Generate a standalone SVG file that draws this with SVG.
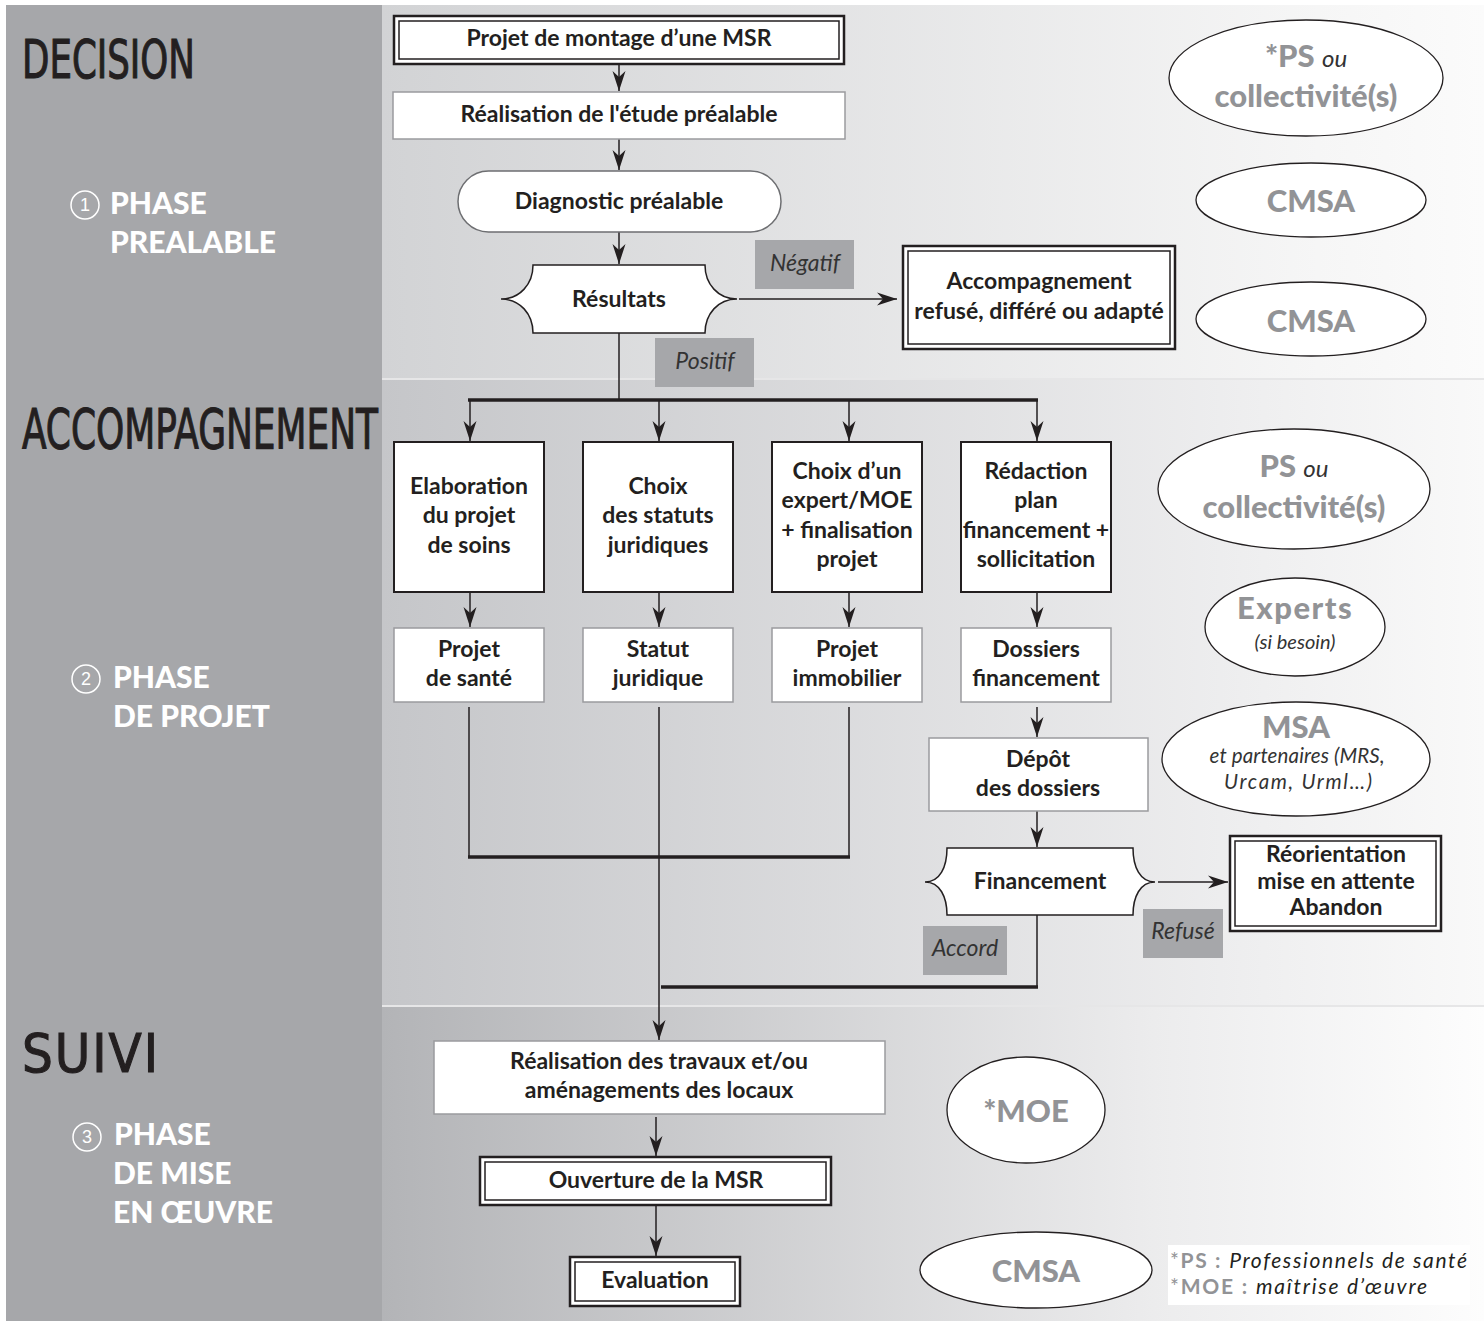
<svg xmlns="http://www.w3.org/2000/svg" width="1484" height="1321" viewBox="0 0 1484 1321">
<style>
.hd{font-family:"Liberation Sans Narrow","DejaVu Sans Condensed","Liberation Sans",sans-serif;font-weight:400;fill:#231f20;stroke:#231f20;stroke-width:1.1}
.ph{font-family:Lato,"Open Sans",sans-serif;font-weight:900;font-size:30px;fill:#fff}
.num{font-family:"Liberation Sans",sans-serif;font-size:18px;fill:#fff;text-anchor:middle}
.t{font-family:Lato,"Open Sans",sans-serif;font-weight:700;font-size:23px;fill:#231f20;text-anchor:middle}
.lbl{font-family:Lato,"Open Sans",sans-serif;font-style:italic;font-size:23px;fill:#333;text-anchor:middle}
.eg{font-family:Lato,"Open Sans",sans-serif;font-weight:900;font-size:31px;fill:#929396;text-anchor:middle}
.ei{font-family:Lato,"Open Sans",sans-serif;font-style:italic;font-weight:400;fill:#333}
.bx{fill:#fff;stroke:#231f20;stroke-width:2}
.gb{fill:#fff;stroke:#9a9b9e;stroke-width:1.5}
.inner{fill:none;stroke:#231f20;stroke-width:1.5}
.outer{fill:#fff;stroke:#231f20;stroke-width:2.5}
.el{fill:#fff;stroke:#231f20;stroke-width:1.3}
.gl{fill:#a6a7aa}
.ln{fill:none;stroke:#231f20;stroke-width:1.5}
.bus{fill:none;stroke:#231f20;stroke-width:3.5}
.ar{fill:none;stroke:#231f20;stroke-width:1.5;marker-end:url(#ah)}
</style>
<defs>
<marker id="ah" markerUnits="userSpaceOnUse" markerWidth="22" markerHeight="16" viewBox="-21 -8 22 16" refX="0" refY="0" orient="auto">
<path d="M-20,-6.5 L0,0 L-20,6.5 L-14,0 Z" fill="#231f20"/>
</marker>
<linearGradient id="g1" x1="0" x2="1" y1="0" y2="0"><stop offset="0" stop-color="#d2d3d5"/><stop offset="0.85" stop-color="#f6f6f6"/><stop offset="1" stop-color="#fbfbfb"/></linearGradient>
<linearGradient id="g2" x1="0" x2="1" y1="0" y2="0"><stop offset="0" stop-color="#c5c6c9"/><stop offset="0.8" stop-color="#efeff0"/><stop offset="1" stop-color="#f9f9f9"/></linearGradient>
<linearGradient id="g3" x1="0" x2="1" y1="0" y2="0"><stop offset="0" stop-color="#b3b4b7"/><stop offset="0.7" stop-color="#ececed"/><stop offset="1" stop-color="#fdfdfd"/></linearGradient>
</defs>
<rect width="1484" height="1321" fill="#fff"/>
<g id="background">
<rect x="382" y="5" width="1102" height="1316" fill="#e6e6e7"/>
<rect x="382" y="5" width="1102" height="373" fill="url(#g1)"/>
<rect x="382" y="380" width="1102" height="625" fill="url(#g2)"/>
<rect x="382" y="1007" width="1102" height="314" fill="url(#g3)"/>
<rect x="6" y="5" width="376" height="1316" fill="#a6a7aa"/>
</g>
<g id="headings">
<text class="hd" x="22" y="78" font-size="53" textLength="173" lengthAdjust="spacingAndGlyphs">DECISION</text>
<text class="hd" x="22" y="448" font-size="56" textLength="356" lengthAdjust="spacingAndGlyphs">ACCOMPAGNEMENT</text>
<text class="hd" x="22" y="1072" font-size="54" textLength="136" lengthAdjust="spacing">SUIVI</text>
</g>
<g id="phase1">
<circle cx="85" cy="205" r="14" fill="none" stroke="#fff" stroke-width="1.5"/>
<text class="num" x="85" y="211">1</text>
<text class="ph" x="110" y="214">PHASE</text>
<text class="ph" x="110" y="253">PREALABLE</text>
</g>
<g id="phase2">
<circle cx="86" cy="679" r="14" fill="none" stroke="#fff" stroke-width="1.5"/>
<text class="num" x="86" y="685">2</text>
<text class="ph" x="113" y="688">PHASE</text>
<text class="ph" x="113" y="727">DE PROJET</text>
</g>
<g id="phase3">
<circle cx="87" cy="1137" r="14" fill="none" stroke="#fff" stroke-width="1.5"/>
<text class="num" x="87" y="1143">3</text>
<text class="ph" x="114" y="1145">PHASE</text>
<text class="ph" x="113" y="1184">DE MISE</text>
<text class="ph" x="113" y="1223">EN ŒUVRE</text>
</g>
<g id="connectors">
<line class="ar" x1="619" y1="64" x2="619" y2="91"/>
<line class="ar" x1="619" y1="139" x2="619" y2="170"/>
<line class="ar" x1="619" y1="232" x2="619" y2="264"/>
<line class="ar" x1="739" y1="299" x2="897" y2="299"/>
<polyline class="ln" points="619,333 619,400"/>
<line class="bus" x1="468" y1="400" x2="1038" y2="400"/>
<line class="ar" x1="470" y1="400" x2="470" y2="441"/>
<line class="ar" x1="659" y1="400" x2="659" y2="441"/>
<line class="ar" x1="849" y1="400" x2="849" y2="441"/>
<line class="ar" x1="1037" y1="400" x2="1037" y2="441"/>
<line class="ar" x1="470" y1="592" x2="470" y2="627"/>
<line class="ar" x1="659" y1="592" x2="659" y2="627"/>
<line class="ar" x1="849" y1="592" x2="849" y2="627"/>
<line class="ar" x1="1037" y1="592" x2="1037" y2="627"/>
<line class="ln" x1="469" y1="707" x2="469" y2="857"/>
<line class="ln" x1="849" y1="707" x2="849" y2="857"/>
<line class="bus" x1="468" y1="857" x2="850" y2="857"/>
<line class="ar" x1="659" y1="707" x2="659" y2="1040"/>
<line class="ar" x1="1037" y1="707" x2="1037" y2="737"/>
<line class="ar" x1="1037" y1="811" x2="1037" y2="847"/>
<line class="ar" x1="1158" y1="882" x2="1228" y2="882"/>
<polyline class="ln" points="1037,915 1037,987"/>
<line class="bus" x1="661" y1="987" x2="1038" y2="987"/>
<line class="ar" x1="656" y1="1117" x2="656" y2="1156"/>
<line class="ar" x1="656" y1="1205" x2="656" y2="1256"/>
</g>
<g id="labels">
<g id="lbl-negatif"><rect class="gl" x="755" y="240" width="99" height="49"/><text class="lbl" x="805" y="271">Négatif</text></g>
<g id="lbl-positif"><rect class="gl" x="655" y="338" width="99" height="49"/><text class="lbl" x="705" y="369">Positif</text></g>
<g id="lbl-accord"><rect class="gl" x="923" y="926" width="84" height="49"/><text class="lbl" x="965" y="956">Accord</text></g>
<g id="lbl-refuse"><rect class="gl" x="1143" y="909" width="80" height="49"/><text class="lbl" x="1183" y="939">Refusé</text></g>
</g>
<g id="n-projet-montage">
<rect class="outer" x="394" y="16" width="450" height="48"/>
<rect class="inner" x="399" y="21" width="440" height="38"/>
<text class="t" x="619" y="46">Projet de montage d’une MSR</text>
</g>
<g id="n-realisation-etude">
<rect class="gb" x="393" y="92" width="452" height="47"/>
<text class="t" x="619" y="122">Réalisation de l'étude préalable</text>
</g>
<g id="n-diagnostic">
<rect x="458" y="171" width="323" height="61" rx="30.5" fill="#fff" stroke="#6d6e71" stroke-width="1.5"/>
<text class="t" x="619" y="209">Diagnostic préalable</text>
</g>
<g id="n-resultats">
<path d="M533,265 L705,265 C705,284 718,299 737,299 C718,299 705,314 705,333 L533,333 C533,314 520,299 501,299 C520,299 533,284 533,265 Z" fill="#fff" stroke="#231f20" stroke-width="1.5"/>
<text class="t" x="619" y="307">Résultats</text>
</g>
<g id="n-accompagnement-refuse">
<rect class="outer" x="903" y="246" width="272" height="103"/>
<rect class="inner" x="908" y="251" width="262" height="93"/>
<text class="t" x="1039" y="289">Accompagnement</text>
<text class="t" x="1039" y="319">refusé, différé ou adapté</text>
</g>
<g id="n-elaboration">
<rect class="bx" x="394" y="442" width="150" height="150"/>
<text class="t" x="469" y="494">Elaboration</text>
<text class="t" x="469" y="523">du projet</text>
<text class="t" x="469" y="553">de soins</text>
</g>
<g id="n-choix-statuts">
<rect class="bx" x="583" y="442" width="150" height="150"/>
<text class="t" x="658" y="494">Choix</text>
<text class="t" x="658" y="523">des statuts</text>
<text class="t" x="658" y="553">juridiques</text>
</g>
<g id="n-choix-expert">
<rect class="bx" x="772" y="442" width="150" height="150"/>
<text class="t" x="847" y="479">Choix d’un</text>
<text class="t" x="847" y="508">expert/MOE</text>
<text class="t" x="847" y="538">+ finalisation</text>
<text class="t" x="847" y="567">projet</text>
</g>
<g id="n-redaction">
<rect class="bx" x="961" y="442" width="150" height="150"/>
<text class="t" x="1036" y="479">Rédaction</text>
<text class="t" x="1036" y="508">plan</text>
<text class="t" x="1036" y="538">financement +</text>
<text class="t" x="1036" y="567">sollicitation</text>
</g>
<g id="n-projet-sante">
<rect class="gb" x="394" y="628" width="150" height="74"/>
<text class="t" x="469" y="657">Projet</text>
<text class="t" x="469" y="686">de santé</text>
</g>
<g id="n-statut">
<rect class="gb" x="583" y="628" width="150" height="74"/>
<text class="t" x="658" y="657">Statut</text>
<text class="t" x="658" y="686">juridique</text>
</g>
<g id="n-projet-immo">
<rect class="gb" x="772" y="628" width="150" height="74"/>
<text class="t" x="847" y="657">Projet</text>
<text class="t" x="847" y="686">immobilier</text>
</g>
<g id="n-dossiers">
<rect class="gb" x="961" y="628" width="150" height="74"/>
<text class="t" x="1036" y="657">Dossiers</text>
<text class="t" x="1036" y="686">financement</text>
</g>
<g id="n-depot">
<rect class="gb" x="929" y="738" width="219" height="73"/>
<text class="t" x="1038" y="767">Dépôt</text>
<text class="t" x="1038" y="796">des dossiers</text>
</g>
<g id="n-financement">
<path d="M947,848 L1133,848 C1133,867 1140,882 1155,882 C1140,882 1133,897 1133,915 L947,915 C947,897 940,882 925,882 C940,882 947,867 947,848 Z" fill="#fff" stroke="#231f20" stroke-width="1.5"/>
<text class="t" x="1040" y="889">Financement</text>
</g>
<g id="n-reorientation">
<rect class="outer" x="1230" y="836" width="211" height="95"/>
<rect class="inner" x="1235" y="841" width="201" height="85"/>
<text class="t" x="1336" y="862">Réorientation</text>
<text class="t" x="1336" y="889">mise en attente</text>
<text class="t" x="1336" y="915">Abandon</text>
</g>
<g id="n-travaux">
<rect class="gb" x="434" y="1041" width="451" height="73"/>
<text class="t" x="659" y="1069">Réalisation des travaux et/ou</text>
<text class="t" x="659" y="1098">aménagements des locaux</text>
</g>
<g id="n-ouverture">
<rect class="outer" x="480" y="1157" width="351" height="48"/>
<rect class="inner" x="485" y="1162" width="341" height="38"/>
<text class="t" x="656" y="1188">Ouverture de la MSR</text>
</g>
<g id="n-evaluation">
<rect class="outer" x="570" y="1257" width="170" height="49"/>
<rect class="inner" x="575" y="1262" width="160" height="39"/>
<text class="t" x="655" y="1288">Evaluation</text>
</g>
<g id="e-ps1">
<ellipse class="el" cx="1306" cy="78" rx="137" ry="58"/>
<text class="eg" x="1306" y="67">*PS <tspan class="ei" font-size="24">ou</tspan></text>
<text class="eg" x="1306" y="107">collectivité(s)</text>
</g>
<g id="e-cmsa1">
<ellipse class="el" cx="1311" cy="200" rx="115" ry="37"/>
<text class="eg" x="1311" y="212">CMSA</text>
</g>
<g id="e-cmsa2">
<ellipse class="el" cx="1311" cy="319" rx="115" ry="37"/>
<text class="eg" x="1311" y="332">CMSA</text>
</g>
<g id="e-ps2">
<ellipse class="el" cx="1294" cy="489" rx="136" ry="60"/>
<text class="eg" x="1294" y="477">PS <tspan class="ei" font-size="24">ou</tspan></text>
<text class="eg" x="1294" y="518">collectivité(s)</text>
</g>
<g id="e-experts">
<ellipse class="el" cx="1295" cy="627" rx="90" ry="49"/>
<text class="eg" x="1295" y="619" letter-spacing="1.5">Experts</text>
<text class="ei" x="1295" y="649" font-size="20" text-anchor="middle">(si besoin)</text>
</g>
<g id="e-msa">
<ellipse class="el" cx="1296" cy="759" rx="134" ry="57"/>
<text class="eg" x="1296" y="738">MSA</text>
<text class="ei" x="1297" y="763" font-size="20.5" text-anchor="middle" textLength="175" lengthAdjust="spacing">et partenaires (MRS,</text>
<text class="ei" x="1298" y="789" font-size="20.5" text-anchor="middle" textLength="148" lengthAdjust="spacing">Urcam, Urml…)</text>
</g>
<g id="e-moe">
<ellipse class="el" cx="1026" cy="1110" rx="79" ry="53"/>
<text class="eg" x="1026" y="1122">*MOE</text>
</g>
<g id="e-cmsa3">
<ellipse class="el" cx="1036" cy="1270" rx="116" ry="38"/>
<text class="eg" x="1036" y="1282">CMSA</text>
</g>
<g id="legend">
<rect x="1168" y="1245" width="302" height="60" fill="#fff"/>
<text x="1170" y="1268" font-family="Lato, 'Open Sans', sans-serif" font-size="21" fill="#231f20" textLength="297" lengthAdjust="spacing"><tspan fill="#929396">*</tspan><tspan fill="#929396" font-weight="700">PS :</tspan> <tspan font-style="italic">Professionnels de santé</tspan></text>
<text x="1170" y="1294" font-family="Lato, 'Open Sans', sans-serif" font-size="21" fill="#231f20" textLength="257" lengthAdjust="spacing"><tspan fill="#929396">*</tspan><tspan fill="#929396" font-weight="700">MOE :</tspan> <tspan font-style="italic">maîtrise d’œuvre</tspan></text>
</g>
</svg>
